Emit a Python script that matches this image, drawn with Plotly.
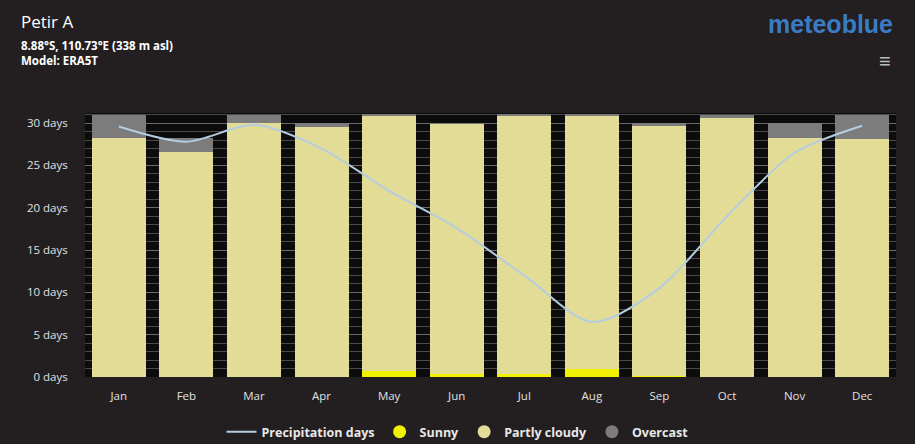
import plotly.graph_objects as go

months = ["Jan", "Feb", "Mar", "Apr", "May", "Jun", "Jul", "Aug", "Sep", "Oct", "Nov", "Dec"]
sunny = [0.0, 0.0, 0.0, 0.0, 0.7, 0.3, 0.4, 0.9, 0.1, 0.0, 0.0, 0.0]
partly_cloudy = [28.3, 26.6, 30.0, 29.5, 30.2, 29.6, 30.5, 30.0, 29.6, 30.6, 28.3, 28.1]
overcast = [2.7, 1.65, 1.0, 0.5, 0.1, 0.1, 0.1, 0.1, 0.3, 0.4, 1.7, 2.9]
precip_days = [29.6, 27.8, 29.8, 27.0, 22.0, 17.6, 12.0, 6.5, 10.5, 19.0, 26.5, 29.7]
y_ticks = [0, 5, 10, 15, 20, 25, 30]
y_tick_labels = [f"{v} days" for v in y_ticks]

C_SUNNY = "#f2f200"
C_PC = "#e2dc96"
C_OC = "#7c7c7c"
C_LINE = "#b4cde0"
BG = "#231f20"

W, H = 915, 444
L, R, T, B = 85, 19, 113, 67
PW, PH = W - L - R, H - T - B

fig = go.Figure()
fig.add_bar(x=months, y=sunny, name="Sunny", marker_color=C_SUNNY, marker_line_width=0, showlegend=False)
fig.add_bar(x=months, y=partly_cloudy, name="Partly cloudy", marker_color=C_PC, marker_line_width=0, showlegend=False)
fig.add_bar(x=months, y=overcast, name="Overcast", marker_color=C_OC, marker_line_width=0, showlegend=False)
fig.add_scatter(x=months, y=precip_days, mode="lines", name="<b>Precipitation days</b>",
                line=dict(color=C_LINE, width=2, shape="spline", smoothing=0.8), showlegend=True)

# legend entries with round markers
for nm, col in [("Sunny", C_SUNNY), ("Partly cloudy", C_PC), ("Overcast", C_OC)]:
    fig.add_scatter(x=[None], y=[None], mode="markers", name=f"<b>{nm}</b>",
                    marker=dict(color=col, size=13, symbol="circle"), showlegend=True)

fig.update_layout(
    width=W, height=H,
    paper_bgcolor=BG, plot_bgcolor="#0c0c0c",
    barmode="stack", bargap=0.2,
    margin=dict(l=L, r=R, t=T, b=B, autoexpand=False),
    font=dict(family="Open Sans, Liberation Sans, sans-serif", color="#e8e8e8", size=10),
    showlegend=True,
    legend=dict(orientation="h", x=0.5, xanchor="center", xref="container",
                y=1 - 432 / H, yanchor="middle", yref="container",
                traceorder="normal", font=dict(size=12.5, color="#e8e8e8"),
                bgcolor="rgba(0,0,0,0)", itemwidth=30),
    xaxis=dict(showgrid=False, tickfont=dict(size=11.5, color="#e0e0e0"), showline=False,
               ticks="outside", ticklen=8, tickcolor=BG, zeroline=False),
    yaxis=dict(range=[0, 31.2], tickvals=y_ticks, ticktext=y_tick_labels,
               tickfont=dict(size=11.5, color="#e0e0e0"), showgrid=True, gridcolor="#6a6a6a",
               gridwidth=1, zeroline=False, ticks="outside", ticklen=14, tickcolor=BG,
               minor=dict(dtick=1, showgrid=True, gridcolor="#4a4a4a", gridwidth=1)),
)

anns = [
    dict(x=19, y=21, text="Petir A", size=17),
    dict(x=19, y=45, text="<b>8.88°S, 110.73°E (338 m asl)</b>", size=11.5),
    dict(x=19, y=60, text="<b>Model: ERA5T</b>", size=11.5),
]
for a in anns:
    fig.add_annotation(x=(a["x"] - L) / PW, y=(H - B - a["y"]) / PH,
                       xref="paper", yref="paper", text=a["text"], showarrow=False,
                       xanchor="left", yanchor="middle",
                       font=dict(size=a["size"], color="#ffffff"))
fig.add_annotation(x=(895 - L) / PW, y=(H - B - 24) / PH, xref="paper", yref="paper",
                   text="<b>meteoblue</b>", showarrow=False, xanchor="right", yanchor="middle",
                   font=dict(size=25, color="#3a7cc4", family="Liberation Sans, sans-serif"))
fig.add_annotation(x=(893 - L) / PW, y=(H - B - 60) / PH, xref="paper", yref="paper",
                   text="≡", showarrow=False, xanchor="right", yanchor="middle",
                   font=dict(size=20, color="#bbbbbb"))

fig.write_html("out.html", config={"displayModeBar": False},
               post_script="document.body.style.margin='0';document.body.style.overflow='hidden';")
